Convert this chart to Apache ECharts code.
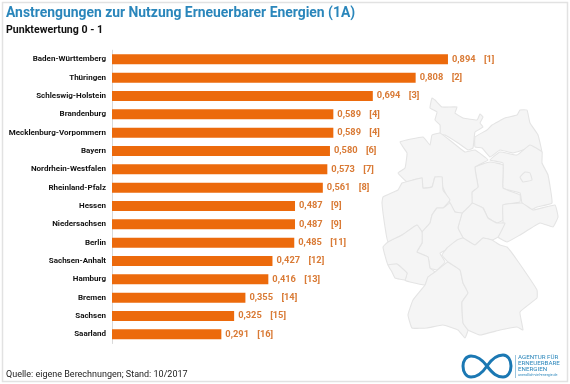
<!DOCTYPE html>
<html><head><meta charset="utf-8">
<style>html,body{margin:0;padding:0;background:#fff}#c{width:570px;height:384px}</style>
<script src="https://cdn.jsdelivr.net/npm/echarts@6/dist/echarts.min.js"></script>
</head><body><div id="c"></div>
<script>
const categories = ["Baden-Württemberg","Thüringen","Schleswig-Holstein","Brandenburg","Mecklenburg-Vorpommern","Bayern","Nordrhein-Westfalen","Rheinland-Pfalz","Hessen","Niedersachsen","Berlin","Sachsen-Anhalt","Hamburg","Bremen","Sachsen","Saarland"];
const values = [0.894,0.808,0.694,0.589,0.589,0.580,0.573,0.561,0.487,0.487,0.485,0.427,0.416,0.355,0.325,0.291];
const ranks = [1,2,3,4,4,6,7,8,9,9,11,12,13,14,15,16];

// Decorative background map of the German states (outline sketch, not data)
const mapStates = [
 [[432,98],[430,108],[437,112],[435,120],[440,125],[440,133],[435,135],[445,135],[458,143],[468,150],[473,148],[475,132],[483,127],[480,123],[483,117],[480,114],[477,120],[463,118],[455,113],[457,107],[442,107],[435,100]],
 [[475,137],[487,130],[492,125],[505,118],[517,115],[520,110],[527,110],[530,123],[538,135],[542,153],[533,147],[513,153],[500,150],[490,157],[482,148],[475,147]],
 [[490,160],[500,152],[517,155],[530,145],[542,152],[542,163],[548,175],[552,203],[537,207],[530,210],[522,203],[520,193],[503,188],[503,163]],
 [[475,167],[490,162],[503,165],[503,188],[520,195],[520,202],[503,205],[503,220],[497,223],[488,218],[483,208],[472,203],[472,192],[478,187]],
 [[503,205],[522,203],[533,210],[555,205],[558,217],[553,227],[540,223],[520,235],[507,242],[498,237],[503,225]],
 [[472,203],[483,208],[488,218],[497,223],[505,223],[498,237],[492,240],[483,238],[475,245],[463,238],[458,228],[462,213],[468,207]],
 [[400,142],[423,137],[430,145],[432,135],[440,133],[452,142],[465,152],[475,150],[488,160],[475,167],[478,187],[472,192],[472,203],[462,213],[455,212],[450,203],[442,185],[442,177],[435,177],[432,187],[423,188],[422,178],[413,180],[407,182],[398,173],[405,168],[407,153]],
 [[383,197],[398,190],[402,183],[413,180],[422,178],[423,188],[432,187],[435,177],[442,177],[443,190],[450,200],[443,208],[437,208],[432,215],[430,223],[422,232],[417,225],[402,235],[388,242],[385,227],[382,203]],
 [[450,203],[455,212],[462,213],[458,228],[463,238],[457,245],[440,253],[445,262],[437,270],[430,268],[428,257],[417,252],[422,243],[422,232],[430,223],[432,215],[437,208],[443,208]],
 [[388,242],[402,235],[417,225],[422,232],[422,243],[417,252],[428,257],[430,268],[435,272],[428,277],[425,285],[410,282],[405,280],[407,273],[397,264],[388,265],[383,247]],
 [[388,265],[397,264],[407,273],[405,280],[395,278],[392,272]],
 [[428,277],[435,272],[448,262],[460,270],[463,283],[468,293],[462,302],[463,323],[468,330],[465,338],[458,330],[443,325],[427,328],[412,328],[408,315],[413,300],[425,285]],
 [[442,255],[447,248],[457,240],[463,238],[475,245],[483,238],[492,240],[500,245],[507,247],[517,260],[537,290],[537,298],[520,312],[523,330],[517,327],[500,330],[480,335],[468,330],[463,323],[462,302],[468,293],[463,283],[460,270],[448,262]],
 [[520,177],[525,172],[530,173],[532,180],[523,182]]
];
const mapGraphics = mapStates.map(p => ({
  type:'polygon', z:0, shape:{points:p, smooth:0.1},
  style:{fill:'#f5f5f5', stroke:'#e4e4e4', lineWidth:1.1}
}));

const F = 'Roboto, sans-serif';
const txt = (x,y,t,size,weight,color,extra) => ({type:'text', z:5, x, y, style:Object.assign({text:t, font:`${weight} ${size}px ${F}`, fill:color, textVerticalAlign:'middle'}, extra||{})});
const logoCurve = (x1,y1,cpx1,cpy1,cpx2,cpy2,x2,y2) => ({type:'bezierCurve', z:5,
  shape:{x1,y1,cpx1,cpy1,cpx2,cpy2,x2,y2}, style:{fill:'none', stroke:'#1b78b3', lineWidth:3}});

const chart = echarts.init(document.getElementById('c'), null, {renderer:'canvas'});
chart.setOption({
  animation:false,
  backgroundColor:'#fff',
  grid:{left:112, top:50.2, width:375.8, height:293.3, containLabel:false},
  xAxis:{type:'value', min:0, max:1, show:false},
  yAxis:{type:'category', inverse:true, data:categories,
    axisTick:{show:false}, axisLine:{show:true, lineStyle:{color:'#d9d9d9', width:1}},
    axisLabel:{margin:6, color:'#111', fontFamily:F, fontWeight:'bold', fontSize:8, interval:0}},
  series:[{type:'bar', z:3, data:values, barWidth:10, itemStyle:{color:'#ec6a0c'},
    label:{show:true, position:'right', distance:4,
      formatter:p => `{v|${p.value.toFixed(3).replace('.',',')}}{r|[${ranks[p.dataIndex]}]}`,
      rich:{
        v:{width:32, color:'#d97a35', fontFamily:F, fontWeight:'bold', fontSize:9.3},
        r:{color:'#d97a35', fontFamily:F, fontWeight:'bold', fontSize:9.3}
      }}}],
  graphic:{elements:[
    {type:'rect', z:-1, shape:{x:2.5,y:2.5,width:565,height:379}, style:{fill:'#fff', stroke:'#e2e2e2', lineWidth:1.5}},
    ...mapGraphics,
    txt(6,14,'Anstrengungen zur Nutzung Erneuerbarer Energien (1A)',13.9,'bold','#2a86bb'),
    txt(6,30,'Punktewertung 0 - 1',10.6,'bold','#111'),
    txt(6,375,'Quelle: eigene Berechnungen; Stand: 10/2017',9,'normal','#222'),
    logoCurve(487,366,481,358,476,356,471,356),
    logoCurve(471,356,466,356,463,361,463,366),
    logoCurve(463,366,463,372,466,377,471,377),
    logoCurve(471,377,477,377,483,372,487,366),
    logoCurve(487,366,491,360,497,355,503,355),
    logoCurve(503,355,508,355,511,360,511,366),
    logoCurve(511,366,511,372,508,377,503,377),
    logoCurve(503,377,497,377,493,374,487,366),
    {type:'line', z:5, shape:{x1:515.5,y1:355,x2:515.5,y2:378}, style:{stroke:'#9cc5de', lineWidth:1}},
    txt(518,357.5,'AGENTUR FÜR',6.2,'normal','#2a86bb'),
    txt(518,363.5,'ERNEUERBARE',6.2,'normal','#2a86bb'),
    txt(518,369.5,'ENERGIEN',6.2,'normal','#2a86bb'),
    txt(518,375.5,'unendlich-viel-energie.de',3.6,'normal','#2a86bb')
  ]}
});
</script></body></html>
